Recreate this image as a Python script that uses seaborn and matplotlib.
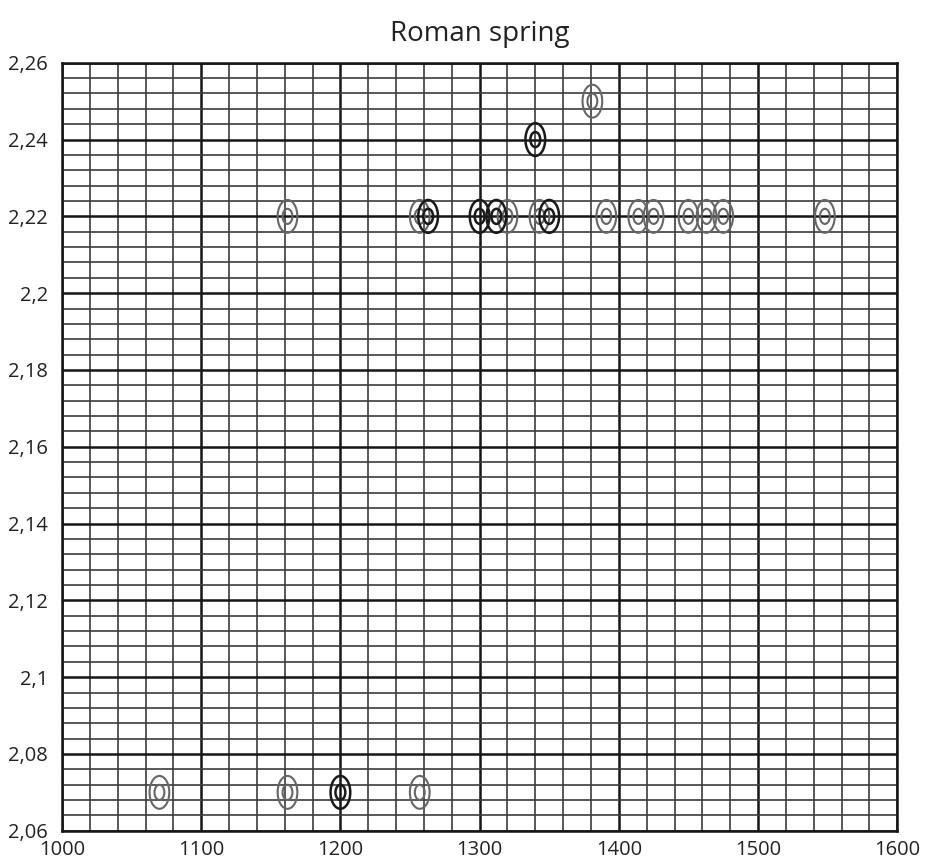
import matplotlib
matplotlib.use("Agg")
import matplotlib.pyplot as plt
import seaborn as sns
import pandas as pd
from matplotlib.path import Path
from matplotlib.markers import MarkerStyle
from matplotlib.ticker import MultipleLocator, FuncFormatter

# datos
black_x = [1200, 1263, 1300, 1312, 1350, 1340]
black_y = [2.07, 2.22, 2.22, 2.22, 2.22, 2.24]
gray_x = [1070, 1162, 1257, 1162, 1257, 1320, 1343, 1391, 1414, 1425,
          1450, 1463, 1475, 1548, 1381]
gray_y = [2.07, 2.07, 2.07, 2.22, 2.22, 2.22, 2.22, 2.22, 2.22, 2.22,
          2.22, 2.22, 2.22, 2.22, 2.25]

df = pd.concat([
    pd.DataFrame({"x": gray_x, "y": gray_y, "tone": "gray"}),
    pd.DataFrame({"x": black_x, "y": black_y, "tone": "black"}),
], ignore_index=True)

tone_colors = {"gray": "#666666", "black": "#1a1a1a"}
tone_widths = {"gray": 1.5, "black": 1.8}

# marcador: dos elipses concéntricas alargadas en vertical
circ = Path.unit_circle()
outer = Path(circ.vertices * [0.30, 0.5], circ.codes)
inner = Path(circ.vertices * [0.15, 0.23], circ.codes)
ring = MarkerStyle(Path.make_compound_path(outer, inner))

sns.set_theme(style="white")
plt.rcParams["font.family"] = ["Open Sans", "DejaVu Sans"]

fig = plt.figure(figsize=(9.25, 8.6), dpi=100)
ax = fig.add_axes([0.067, 0.034, 0.903, 0.893])

for tone in ["gray", "black"]:
    sub = df[df["tone"] == tone]
    sns.scatterplot(data=sub, x="x", y="y", ax=ax, marker=ring, s=560,
                    facecolor="none", edgecolor=tone_colors[tone],
                    linewidth=tone_widths[tone], legend=False, zorder=3)

ax.set_xlim(1000, 1600)
ax.set_ylim(2.06, 2.26)
ax.xaxis.set_major_locator(MultipleLocator(100))
ax.xaxis.set_minor_locator(MultipleLocator(20))
ax.yaxis.set_major_locator(MultipleLocator(0.02))
ax.yaxis.set_minor_locator(MultipleLocator(0.004))
ax.yaxis.set_major_formatter(FuncFormatter(lambda v, p: f"{v:g}".replace(".", ",")))
ax.xaxis.set_major_formatter(FuncFormatter(lambda v, p: f"{v:g}"))

ax.grid(which="major", color="#151515", linewidth=1.8)
ax.grid(which="minor", color="#3c3c3c", linewidth=1.2)
ax.set_axisbelow(True)
ax.tick_params(which="both", length=0, labelsize=14.5, colors="#222222")
ax.tick_params(axis="y", pad=10)
ax.tick_params(axis="x", pad=7)
ax.set_xlabel("")
ax.set_ylabel("")
for sp in ax.spines.values():
    sp.set_color("#151515")
    sp.set_linewidth(1.8)

ax.set_title("Roman spring", fontsize=20, color="#222222", pad=16)

fig.savefig("out.png", dpi=100)
